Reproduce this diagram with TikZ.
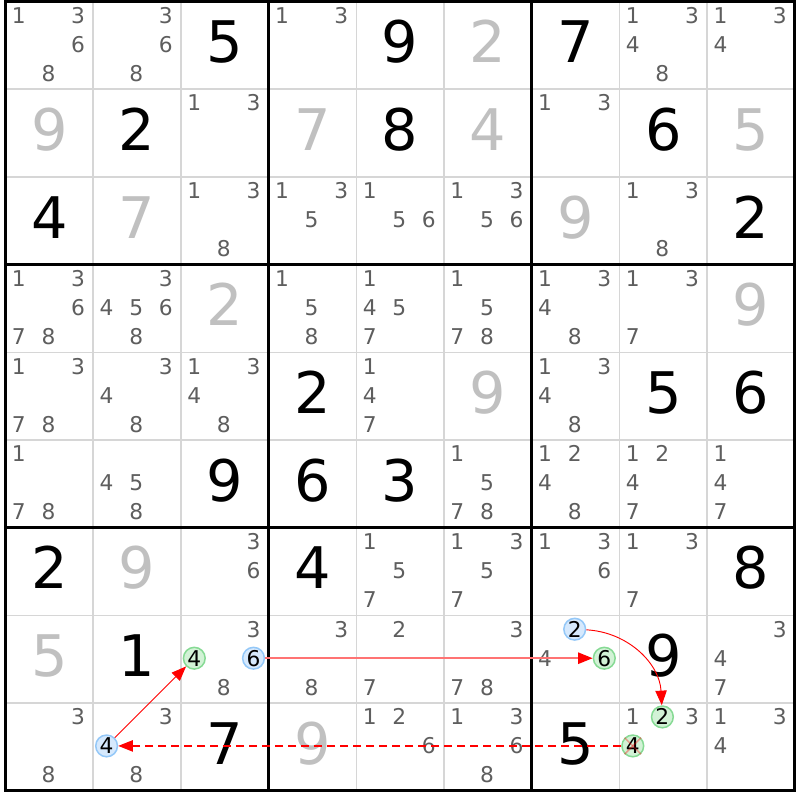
\documentclass[tikz,border=0pt]{standalone}
\usepackage{fontspec}
\setmainfont{DejaVu Sans}
\usetikzlibrary{arrows.meta}
\definecolor{candgray}{HTML}{5E5E5E}
\definecolor{palegray}{HTML}{C0C0C0}
\definecolor{thingrid}{HTML}{D6D6D6}
\definecolor{bluefill}{HTML}{D6E9FD}
\definecolor{blueline}{HTML}{94C8F8}
\definecolor{greenfill}{HTML}{D2F2D6}
\definecolor{greenline}{HTML}{86DA94}
\newcommand\givenat[4]{\node[givendigit,#4] (g#1#2) at ({5.5+(#2-0.5)*87.7},{1.5+(#1-0.5)*87.7-3.5}) {#3};}
\newcommand\given[3]{\givenat{#1}{#2}{#3}{black}}
\newcommand\pale[3]{\givenat{#1}{#2}{#3}{palegray}}
\newcommand\cands[3]{\foreach \d in {#3}{%
  \pgfmathtruncatemacro\kk{mod(\d-1,3)}%
  \pgfmathtruncatemacro\jj{(\d-1)/3}%
  \node[canddigit] (c#1#2\d) at ({5.5+(#2-1)*87.7+13.4+\kk*29.6},{1.5+(#1-1)*87.7+13.8+\jj*29}) {\d};}}
\newcommand\circcand[4]{%
  \pgfmathtruncatemacro\kk{mod(#3-1,3)}%
  \pgfmathtruncatemacro\jj{(#3-1)/3}%
  \node[#4] (c#1#2#3) at ({5.5+(#2-1)*87.7+13.4+\kk*29.6},{1.5+(#1-1)*87.7+13.8+\jj*29}) {#3};}
\begin{document}
\begin{tikzpicture}[x=0.75pt,y=-0.75pt,
  givendigit/.style={inner sep=0pt,font=\fontsize{43pt}{43pt}\selectfont,text height=31.3pt,text depth=0pt},
  canddigit/.style={inner sep=0pt,text=candgray,font=\fontsize{16.3pt}{16.3pt}\selectfont,text height=11.9pt,text depth=0pt},
  markcirc/.style={circle,inner sep=0pt,minimum size=16.3pt,line width=1.125pt,text=black,font=\fontsize{16.3pt}{16.3pt}\selectfont,text height=11.9pt,text depth=0pt},
  bluecirc/.style={markcirc,draw=blueline,fill=bluefill},
  greencirc/.style={markcirc,draw=greenline,fill=greenfill},
  redarrow/.style={red,line width=0.7pt,-{Triangle[length=11pt,width=8.5pt]}},
  thinline/.style={thingrid,line width=1.2pt},
  thickline/.style={black,line width=2.25pt}]
\useasboundingbox (0,0) rectangle (800,800);
\fill[white] (0,0) rectangle (800,800);
% grid
\foreach \i in {1,2,4,5,7,8} {
  \draw[thinline] ({5.5+\i*87.7},1.5) -- ({5.5+\i*87.7},790.8);
  \draw[thinline] (5.5,{1.5+\i*87.7}) -- (794.8,{1.5+\i*87.7});
}
\foreach \i in {0,3,6,9} {
  \draw[thickline] ({5.5+\i*87.7},0) -- ({5.5+\i*87.7},792.3);
  \draw[thickline] (4,{1.5+\i*87.7}) -- (796.3,{1.5+\i*87.7});
}
% row 1
\cands{1}{1}{1,3,6,8} \cands{1}{2}{3,6,8} \given{1}{3}{5}
\cands{1}{4}{1,3} \given{1}{5}{9} \pale{1}{6}{2}
\given{1}{7}{7} \cands{1}{8}{1,3,4,8} \cands{1}{9}{1,3,4}
% row 2
\pale{2}{1}{9} \given{2}{2}{2} \cands{2}{3}{1,3}
\pale{2}{4}{7} \given{2}{5}{8} \pale{2}{6}{4}
\cands{2}{7}{1,3} \given{2}{8}{6} \pale{2}{9}{5}
% row 3
\given{3}{1}{4} \pale{3}{2}{7} \cands{3}{3}{1,3,8}
\cands{3}{4}{1,3,5} \cands{3}{5}{1,5,6} \cands{3}{6}{1,3,5,6}
\pale{3}{7}{9} \cands{3}{8}{1,3,8} \given{3}{9}{2}
% row 4
\cands{4}{1}{1,3,6,7,8} \cands{4}{2}{3,4,5,6,8} \pale{4}{3}{2}
\cands{4}{4}{1,5,8} \cands{4}{5}{1,4,5,7} \cands{4}{6}{1,5,7,8}
\cands{4}{7}{1,3,4,8} \cands{4}{8}{1,3,7} \pale{4}{9}{9}
% row 5
\cands{5}{1}{1,3,7,8} \cands{5}{2}{3,4,8} \cands{5}{3}{1,3,4,8}
\given{5}{4}{2} \cands{5}{5}{1,4,7} \pale{5}{6}{9}
\cands{5}{7}{1,3,4,8} \given{5}{8}{5} \given{5}{9}{6}
% row 6
\cands{6}{1}{1,7,8} \cands{6}{2}{4,5,8} \given{6}{3}{9}
\given{6}{4}{6} \given{6}{5}{3} \cands{6}{6}{1,5,7,8}
\cands{6}{7}{1,2,4,8} \cands{6}{8}{1,2,4,7} \cands{6}{9}{1,4,7}
% row 7
\given{7}{1}{2} \pale{7}{2}{9} \cands{7}{3}{3,6}
\given{7}{4}{4} \cands{7}{5}{1,5,7} \cands{7}{6}{1,3,5,7}
\cands{7}{7}{1,3,6} \cands{7}{8}{1,3,7} \given{7}{9}{8}
% row 8
\pale{8}{1}{5} \given{8}{2}{1} \cands{8}{3}{3,8}
\circcand{8}{3}{4}{greencirc} \circcand{8}{3}{6}{bluecirc}
\cands{8}{4}{3,8} \cands{8}{5}{2,7} \cands{8}{6}{3,7,8}
\cands{8}{7}{4} \circcand{8}{7}{2}{bluecirc} \circcand{8}{7}{6}{greencirc}
\given{8}{8}{9} \cands{8}{9}{3,4,7}
% row 9
\cands{9}{1}{3,8} \cands{9}{2}{3,8} \circcand{9}{2}{4}{bluecirc}
\given{9}{3}{7} \pale{9}{4}{9} \cands{9}{5}{1,2,6} \cands{9}{6}{1,3,6,8}
\given{9}{7}{5} \cands{9}{8}{1,3}
\circcand{9}{8}{2}{greencirc} \circcand{9}{8}{4}{greencirc}
\cands{9}{9}{1,3,4}
% cross-out on r9c8 candidate 4
\draw[red,opacity=0.35,line width=1.125pt] (c984.north west) -- (c984.south east);
\draw[red,opacity=0.35,line width=1.125pt] (c984.north east) -- (c984.south west);
% connectors
\draw[redarrow] (c924) -- (c834);
\draw[red!55!white,line width=1.35pt,-{Triangle[length=11pt,width=8.5pt,color=red]}] (c836) -- (c876);
\draw[redarrow] (c872) to[bend left=42] (c982);
\draw[redarrow,line width=1pt,dash pattern=on 6pt off 3.75pt] (c984) -- (c924);
\end{tikzpicture}
\end{document}
